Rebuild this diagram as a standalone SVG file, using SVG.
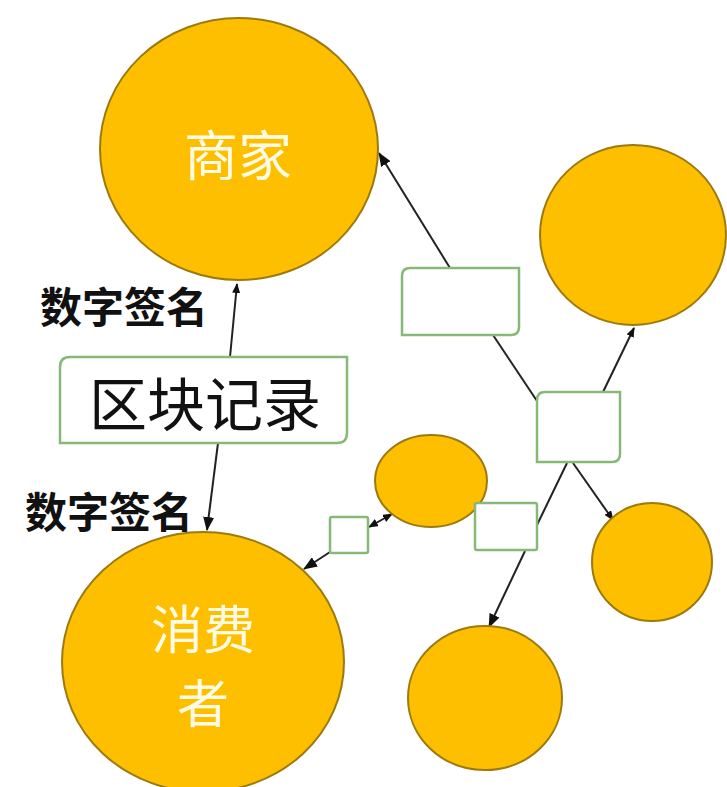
<svg xmlns="http://www.w3.org/2000/svg" width="727" height="787" viewBox="0 0 727 787">
<defs>
<style>
.node{fill:#fdbf00;stroke:#9c7a10;stroke-width:2}
.box{fill:#ffffff;stroke:#86b877;stroke-width:2.5}
.conn{fill:none;stroke:#222;stroke-width:2}
.wt{font-family:"Noto Sans CJK SC",sans-serif;fill:#fffbe4;text-anchor:middle;dominant-baseline:central}
.bt{font-family:"Noto Sans CJK SC",sans-serif;fill:#111;text-anchor:middle;dominant-baseline:central}
</style>
<marker id="ah" viewBox="0 0 14 11" refX="13" refY="5.5" markerWidth="14" markerHeight="11" markerUnits="userSpaceOnUse" orient="auto-start-reverse">
<path d="M0,0 L14,5.5 L0,11 Z" fill="#111"/>
</marker>
<marker id="ahs" viewBox="0 0 10 8" refX="9" refY="4" markerWidth="10" markerHeight="8" markerUnits="userSpaceOnUse" orient="auto-start-reverse">
<path d="M0,0 L10,4 L0,8 Z" fill="#111"/>
</marker>
</defs>
<rect width="727" height="787" fill="#ffffff"/>

<g id="connectors">
<line class="conn" x1="450" y1="268" x2="379" y2="153" marker-end="url(#ah)"/>
<line class="conn" x1="493" y1="335" x2="539" y2="404"/>
<line class="conn" x1="603" y1="392" x2="634" y2="328" marker-end="url(#ahs)"/>
<line class="conn" x1="230" y1="357" x2="237" y2="284" marker-end="url(#ahs)"/>
<line class="conn" x1="218" y1="443" x2="207" y2="530" marker-end="url(#ah)"/>
<line class="conn" x1="330" y1="552" x2="304" y2="569" marker-end="url(#ah)"/>
<line class="conn" x1="369" y1="527" x2="392" y2="514" marker-end="url(#ahs)" marker-start="url(#ahs)"/>
<line class="conn" x1="567" y1="463" x2="537" y2="525"/>
<line class="conn" x1="525" y1="551" x2="489" y2="627" marker-end="url(#ah)"/>
<line class="conn" x1="573" y1="463" x2="613" y2="520" marker-end="url(#ahs)"/>
</g>

<g id="merchant">
<ellipse class="node" cx="239" cy="149" rx="139" ry="131"/>
<text class="wt" x="238" y="152" font-size="54">商家</text>
</g>

<g id="node-top-right">
<ellipse class="node" cx="633" cy="235" rx="93" ry="90"/>
</g>

<g id="box-1">
<path class="box" d="M410,268 H519 V327 Q519,335 511,335 H402 V276 Q402,268 410,268 Z"/>
</g>

<g id="box-2">
<path class="box" d="M545,392 H620 V454 Q620,462 612,462 H537 V400 Q537,392 545,392 Z"/>
</g>

<g id="block-record">
<path class="box" d="M70,357 H347 V433 Q347,443 337,443 H60 V367 Q60,357 70,357 Z"/>
<text class="bt" x="205" y="401" font-size="58">区块记录</text>
</g>

<g id="label-sign-top">
<text class="bt" x="124" y="304" font-size="42" font-weight="bold">数字签名</text>
</g>

<g id="label-sign-bottom">
<text class="bt" x="109" y="509" font-size="42" font-weight="bold">数字签名</text>
</g>

<g id="consumer">
<ellipse class="node" cx="203" cy="662" rx="141" ry="130"/>
<text class="wt" x="203" y="626" font-size="52">消费</text>
<text class="wt" x="203" y="700" font-size="52">者</text>
</g>

<g id="small-box">
<rect class="box" x="330" y="517" width="38" height="36" rx="2"/>
</g>

<g id="small-ellipse">
<ellipse class="node" cx="431" cy="481" rx="56" ry="46"/>
</g>

<g id="box-3">
<rect class="box" x="475" y="503" width="62" height="47" rx="2"/>
</g>

<g id="node-right-lower">
<ellipse class="node" cx="652" cy="562" rx="60" ry="59"/>
</g>

<g id="node-bottom">
<ellipse class="node" cx="485" cy="698" rx="77" ry="72"/>
</g>
</svg>
